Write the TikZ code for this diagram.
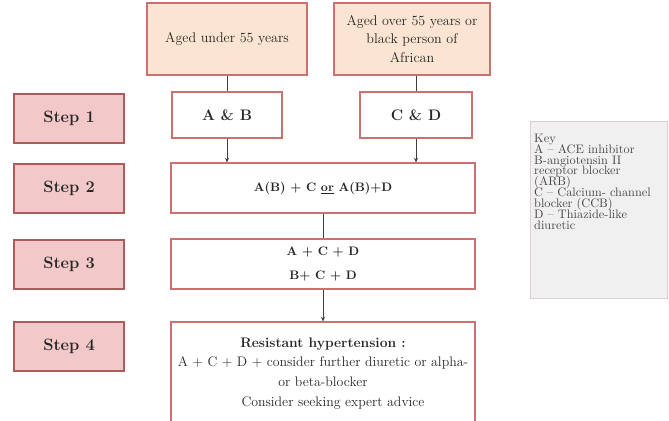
\documentclass[tikz,border=0pt]{standalone}
\usepackage{xcolor}
\usetikzlibrary{arrows.meta,positioning}

\definecolor{boxred}{RGB}{205,112,112}
\definecolor{stepred}{RGB}{172,92,92}
\definecolor{peach}{RGB}{251,229,210}
\definecolor{rosefill}{RGB}{242,200,200}
\definecolor{keyfill}{RGB}{240,240,240}
\definecolor{keyline}{RGB}{218,208,208}

\begin{document}
\begin{tikzpicture}[
    x=0.03cm, y=-0.03cm,
    base/.style={
        rectangle, draw=boxred, line width=0.95pt,
        align=center, inner sep=2pt, text=black!85
    },
    group/.style={base, fill=peach, minimum height=2.16cm,
        font=\fontsize{12}{16}\selectfont},
    stepbox/.style={base, fill=rosefill, draw=stepred,
        minimum width=3.3cm, minimum height=1.47cm,
        font=\fontsize{14}{16}\selectfont\bfseries},
    drug/.style={base, fill=white, minimum height=1.5cm,
        font=\fontsize{10.5}{20}\selectfont\bfseries},
    keybox/.style={rectangle, draw=keyline, fill=keyfill, line width=0.8pt},
    link/.style={draw=black!75, line width=0.7pt},
    flow/.style={link, -{Stealth[length=4pt,width=3.5pt]}},
]
\useasboundingbox (0,0) rectangle (669,421);

% Patient groups
\node[group, minimum width=4.8cm] (young) at (227,39) {Aged under 55 years};
\node[group, minimum width=4.68cm] (older) at (412,39)
    {Aged over 55 years or\\black person of\\African};

% Step labels
\node[stepbox] (s1) at (69,118.5) {Step 1};
\node[stepbox] (s2) at (69,188.5) {Step 2};
\node[stepbox] (s3) at (69,264.5) {Step 3};
\node[stepbox] (s4) at (69,346.5) {Step 4};

% Treatment path
\node[drug, minimum width=3.3cm, minimum height=1.38cm,
    font=\fontsize{13}{15}\selectfont\bfseries] (ab) at (227,115) {A \& B};
\node[drug, minimum width=3.36cm, minimum height=1.38cm,
    font=\fontsize{13}{15}\selectfont\bfseries] (cd) at (416,115) {C \& D};
\node[drug, minimum width=9.12cm] (combo) at (323,188)
    {A(B) + C \underline{or} A(B)+D};
\node[drug, minimum width=9.12cm] (triple) at (323,264)
    {A + C + D\\B+ C + D};
\node[drug, minimum width=9.12cm, minimum height=3.09cm,
    font=\fontsize{11.8}{17}\selectfont] (resist) at (323,373.5)
    {\textbf{Resistant hypertension :}\\
     A + C + D + consider further diuretic or alpha-\\
     or beta-blocker\hspace*{1.6cm}\\
     \hspace*{0.6cm}Consider seeking expert advice};

% Key
\node[keybox, anchor=north west, minimum width=4.11cm,
    minimum height=5.31cm] (key) at (530,121) {};
\node[below right=0.38cm and 0.12cm of key.north west, inner sep=0pt,
    align=left, text=black!72,
    font={\fontsize{10.5}{9.3}\selectfont\lineskiplimit=-5pt\relax}] (keytext)
    {Key\\A -- ACE inhibitor\\B-angiotensin II\\receptor blocker\\(ARB)\\
     C -- Calcium- channel\\blocker (CCB)\\D -- Thiazide-like\\diuretic};

% Arrows
\draw[link] (young) -- (ab);
\draw[link] (older.south -| cd) -- (cd);
\draw[flow] (ab) -- (ab |- combo.north);
\draw[flow] (cd) -- (cd |- combo.north);
\draw[link] (combo) -- (triple);
\draw[flow] (triple) -- (resist);
\end{tikzpicture}
\end{document}
